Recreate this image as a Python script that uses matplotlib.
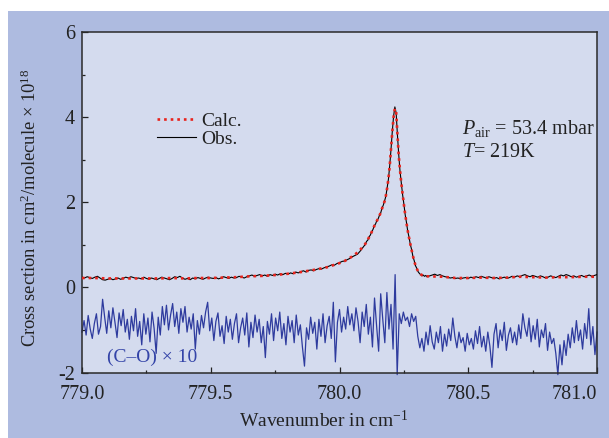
import numpy as np
import matplotlib
matplotlib.use("Agg")
import matplotlib.pyplot as plt
from matplotlib.patches import Rectangle
from matplotlib.ticker import MultipleLocator

plt.rcParams['font.family'] = ['Liberation Serif', 'DejaVu Serif']
plt.rcParams['mathtext.fontset'] = 'custom'
plt.rcParams['mathtext.rm'] = 'Liberation Serif'
plt.rcParams['mathtext.it'] = 'Liberation Serif:italic'
plt.rcParams['axes.unicode_minus'] = False

# observed spectrum: coarse grid on the wings, fine grid over the line
wn_obs = np.concatenate([np.round(np.arange(779.00, 780.095, 0.01), 3),
                         np.round(np.arange(780.100, 780.3425, 0.005), 3),
                         np.round(np.arange(780.35, 781.005, 0.01), 3)])
obs = [0.24, 0.22, 0.25, 0.23, 0.21, 0.24, 0.26, 0.22, 0.18, 0.17,
       0.19, 0.21, 0.18, 0.20, 0.22, 0.19, 0.21, 0.24, 0.22, 0.25,
       0.23, 0.21, 0.22, 0.20, 0.24, 0.21, 0.19, 0.22, 0.20, 0.18,
       0.21, 0.24, 0.22, 0.20, 0.18, 0.21, 0.25, 0.23, 0.26, 0.22,
       0.19, 0.21, 0.18, 0.22, 0.20, 0.23, 0.21, 0.19, 0.22, 0.24,
       0.22, 0.21, 0.23, 0.20, 0.22, 0.25, 0.23, 0.21, 0.24, 0.22,
       0.23, 0.26, 0.24, 0.22, 0.25, 0.27, 0.29, 0.26, 0.28, 0.30,
       0.27, 0.29, 0.26, 0.30, 0.28, 0.31, 0.29, 0.32, 0.30, 0.33,
       0.31, 0.34, 0.32, 0.36, 0.34, 0.37, 0.39, 0.36, 0.40, 0.41,
       0.39, 0.42, 0.44, 0.43, 0.46, 0.48, 0.50, 0.53, 0.52, 0.56,
       0.58, 0.61, 0.62, 0.65, 0.68, 0.72, 0.75, 0.78, 0.85, 0.93,
       # line core
       1.01, 1.08, 1.11, 1.19, 1.23, 1.31, 1.36, 1.45, 1.49, 1.57,
       1.61, 1.69, 1.75, 1.86, 1.93, 2.03, 2.14, 2.34, 2.54, 2.86,
       3.24, 3.66, 4.02, 4.24, 4.10, 3.58, 3.12, 2.73, 2.46, 2.18,
       1.96, 1.71, 1.53, 1.32, 1.18, 1.01, 0.89, 0.73, 0.63, 0.51,
       0.45, 0.37, 0.33, 0.30, 0.27, 0.29, 0.26, 0.28, 0.25,
       # high wavenumber wing
       0.27, 0.29, 0.31, 0.28, 0.30,
       0.27, 0.25, 0.24, 0.22, 0.23, 0.21, 0.22, 0.20, 0.22, 0.23,
       0.21, 0.24, 0.22, 0.25, 0.23, 0.26, 0.24, 0.22, 0.25, 0.23,
       0.21, 0.23, 0.20, 0.22, 0.24, 0.21, 0.23, 0.26, 0.24, 0.27,
       0.25, 0.28, 0.30, 0.27, 0.25, 0.28, 0.26, 0.24, 0.27, 0.25,
       0.22, 0.24, 0.27, 0.25, 0.23, 0.26, 0.29, 0.27, 0.30, 0.28,
       0.25, 0.27, 0.24, 0.26, 0.28, 0.25, 0.27, 0.29, 0.26, 0.28,
       0.30]

# calculated profile
wn_calc = np.concatenate([np.round(np.arange(779.00, 780.001, 0.05), 3),
                          [780.02, 780.04, 780.06, 780.08],
                          np.round(np.arange(780.100, 780.3425, 0.005), 3),
                          np.round(np.arange(780.35, 781.001, 0.05), 3)])
calc = [0.22, 0.22, 0.21, 0.21, 0.21, 0.21, 0.21, 0.22, 0.21, 0.22,
        0.22, 0.23, 0.24, 0.26, 0.27, 0.29, 0.32, 0.36, 0.41, 0.47,
        0.57,
        0.62, 0.69, 0.77, 0.88,
        1.02, 1.07, 1.12, 1.18, 1.24, 1.30, 1.37, 1.44, 1.50, 1.56,
        1.62, 1.68, 1.76, 1.85, 1.94, 2.02, 2.15, 2.33, 2.55, 2.85,
        3.25, 3.65, 4.00, 4.20, 4.12, 3.60, 3.10, 2.75, 2.45, 2.20,
        1.95, 1.72, 1.52, 1.33, 1.17, 1.02, 0.88, 0.74, 0.62, 0.52,
        0.44, 0.38, 0.34, 0.31, 0.29, 0.28, 0.27, 0.26, 0.26,
        0.26, 0.25, 0.22, 0.22, 0.23, 0.22, 0.23, 0.25, 0.24, 0.23,
        0.24, 0.24, 0.25, 0.25]

# residual (obs - calc) x 10, shifted down
wn_res = np.linspace(779.0, 781.0, 251)
resid = [-1.05, -0.78, -1.12, -0.66, -0.98, -1.20, -0.85, -0.62, -1.10, -0.92,
         -0.28, -0.70, -1.08, -0.55, -0.95, -0.48, -0.82, -1.18, -0.60, -0.90,
         -0.52, -1.05, -0.75, -1.22, -0.68, -1.02, -0.50, -1.15, -0.80, -1.35,
         -0.62, -1.10, -0.72, -1.28, -0.58, -0.96, -1.55, -0.70, -1.12, -0.45,
         -0.88, -0.42, -1.00, -0.65, -0.38, -0.92, -0.58, -1.08, -0.50, -0.82,
         -0.45, -1.05, -0.70, -0.98, -0.62, -1.45, -0.78, -1.10, -0.66, -0.95,
         -0.58, -0.35, -1.02, -0.72, -1.25, -0.80, -0.60, -1.15, -0.90, -1.32,
         -0.68, -1.05, -0.75, -1.22, -0.85, -0.62, -1.30, -0.95, -0.72, -1.12,
         -0.60, -1.40, -0.82, -1.18, -0.65, -1.05, -0.75, -1.30, -0.92, -1.65,
         -0.80, -1.10, -0.62, -1.25, -0.72, -1.02, -0.58, -1.20, -0.85, -1.35,
         -0.68, -1.05, -0.78, -1.30, -0.65, -1.12, -0.88, -1.40, -1.85, -0.95,
         -1.22, -0.70, -1.08, -0.82, -1.45, -0.75, -1.15, -0.62, -1.30, -0.90,
         -0.68, -1.20, -0.35, -1.75, -0.82, -0.52, -1.05, -0.70, -0.98, -0.45,
         -0.88, -0.62, -1.02, -0.48, -0.80, -1.30, -0.58, -0.92, -0.40, -1.10,
         -0.70, -1.40, -0.25, -0.90, -1.50, -0.15, -0.75, -1.30, -0.12, -0.98,
         -0.40, -1.45, 0.30, -2.05, -0.62, -0.85, -0.58, -0.78, -0.70, -0.92,
         -0.62, -0.80, -0.68, -1.15, -1.42, -1.20, -1.50, -1.05, -1.35, -0.90,
         -1.28, -1.45, -1.05, -1.30, -0.92, -1.50, -1.10, -1.38, -0.98, -1.25,
         -0.72, -1.15, -1.42, -1.05, -1.30, -1.18, -1.50, -1.08, -1.35, -1.20,
         -1.45, -1.02, -1.32, -0.92, -1.40, -1.15, -1.50, -1.05, -1.38, -1.88,
         -1.10, -0.85, -1.42, -1.00, -1.25, -0.82, -1.48, -1.12, -0.95, -1.30,
         -1.05, -1.35, -0.88, -1.20, -0.62, -0.95, -1.15, -0.72, -1.28, -0.90,
         -1.22, -0.75, -1.40, -1.00, -1.18, -0.85, -1.48, -1.05, -1.32, -1.20,
         -1.55, -2.05, -1.35, -1.82, -1.25, -1.60, -1.10, -1.42, -0.95, -1.30,
         -0.78, -1.25, -1.00, -1.45, -0.85, -1.20, -0.50, -1.35, -0.92, -1.58,
         -1.05]

xticks = [779.0, 779.5, 780.0, 780.5, 781.0]
xticklabels = ["779.0", "779.5", "780.0", "780.5", "781.0"]
yticks = [-2, 0, 2, 4, 6]

outer_bg = '#aebbe0'
panel_bg = '#d4dbee'
res_blue = '#2e3b9e'
ink = '#222222'

fig = plt.figure(figsize=(6.09, 4.38), dpi=100)
fig.patch.set_facecolor('white')
fig.patches.append(Rectangle((8 / 609, 0), 1 - 8 / 609, 1 - 11 / 438,
                             transform=fig.transFigure, facecolor=outer_bg,
                             edgecolor='none', zorder=-10))

ax = fig.add_axes([82 / 609, 1 - 372.5 / 438, 515 / 609, 340.5 / 438])
ax.set_facecolor(panel_bg)

ax.plot(wn_res, resid, color=res_blue, lw=0.9, clip_on=False, zorder=2)
ax.plot(wn_obs, obs, color='black', lw=0.8, zorder=3, label='Obs.')
ax.plot(wn_calc, calc, color='#e8231c', lw=1.9, ls=(0, (1.0, 1.5)),
        zorder=4, label='Calc.')

ax.set_xlim(779.0, 781.0)
ax.set_ylim(-2, 6)

ax.set_xticks(xticks)
ax.set_xticklabels(xticklabels)
ax.xaxis.set_minor_locator(MultipleLocator(0.25))
ax.set_yticks(yticks)
ax.yaxis.set_minor_locator(MultipleLocator(1))
ax.tick_params(which='both', direction='in', top=False, right=False,
               labelsize=14.5, colors=ink, width=0.9)
ax.tick_params(which='major', length=4.5)
ax.tick_params(axis='x', which='major', pad=9)
ax.tick_params(axis='y', which='major', pad=5)
ax.tick_params(which='minor', length=2.2)
ax.get_xticklabels()[-1].set_horizontalalignment('right')
for sp in ax.spines.values():
    sp.set_linewidth(1.1)
    sp.set_color('#2a2a2a')

fig.text(323.5 / 609, 1 - 421 / 438, "Wavenumber in cm$^{-1}$",
         ha='center', va='center', fontsize=14, color=ink)
fig.text(30 / 609, 1 - 207.5 / 438,
         "Cross section in cm$^{2}$/molecule \u00d7 10$^{18}$",
         ha='center', va='center', rotation=90, fontsize=13.3, color=ink)

h_obs, h_calc = ax.get_legend_handles_labels()[0]
ax.legend([h_calc, h_obs], ['Calc.', 'Obs.'], loc='upper left',
          bbox_to_anchor=(75 / 515, 260 / 340.5), frameon=False,
          fontsize=14, handlelength=2.0, handletextpad=0.25,
          labelspacing=0.0, borderpad=0, borderaxespad=0,
          labelcolor=ink)

ax.text(380 / 515, 244 / 340.5, "$P_{\\mathrm{air}}$ = 53.4 mbar",
        ha='left', va='center', fontsize=14.5, color=ink,
        transform=ax.transAxes)
ax.text(380 / 515, 220 / 340.5, "$T$= 219K",
        ha='left', va='center', fontsize=14.5, color=ink,
        transform=ax.transAxes)
ax.text(25 / 515, 15 / 340.5, "(C\u2013O) \u00d7 10", ha='left', va='center',
        fontsize=14, color='#3444a8', transform=ax.transAxes)

fig.savefig("out.png", dpi=100, facecolor=fig.get_facecolor())
